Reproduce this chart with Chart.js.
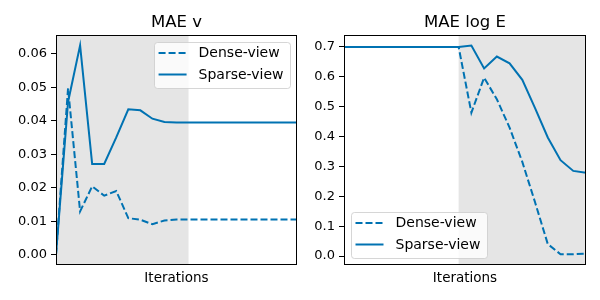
<!DOCTYPE html>
<html>
<head>
<meta charset="utf-8">
<script src="https://cdn.jsdelivr.net/npm/chart.js@4.4.1/dist/chart.umd.min.js"></script>
<style>
  html, body { margin: 0; padding: 0; background: #fff; }
  #wrap { position: relative; width: 600px; height: 300px; }
  #wrap canvas { position: absolute; top: 0; }
</style>
</head>
<body>
<div id="wrap">
  <canvas id="mae-v" width="300" height="300" style="left:0"></canvas>
  <canvas id="mae-loge" width="300" height="300" style="left:300px"></canvas>
</div>
<script>
// --- data ---
const seriesNames = ['Dense-view', 'Sparse-view'];

// MAE v
const iterV = [0, 1, 2, 3, 4, 5, 6, 7, 8, 9, 10, 11, 12, 13, 14, 15, 16, 17, 18, 19, 20];
const denseV = [0, 0.0497, 0.0129, 0.0204, 0.0176, 0.0190, 0.0109, 0.0104, 0.0091, 0.0102, 0.0105,
                0.0105, 0.0105, 0.0105, 0.0105, 0.0105, 0.0105, 0.0105, 0.0105, 0.0105, 0.0105];
const sparseV = [0, 0.0456, 0.0625, 0.0271, 0.0271, 0.0350, 0.0434, 0.0431, 0.0406, 0.0396, 0.0395,
                 0.0395, 0.0395, 0.0395, 0.0395, 0.0395, 0.0395, 0.0395, 0.0395, 0.0395, 0.0395];
const shadeV = [0, 11];
const yTicksV = [0, 0.01, 0.02, 0.03, 0.04, 0.05, 0.06];
const yRangeV = [-0.0031, 0.0656];

// MAE log E
const iterE = [0, 1, 2, 3, 4, 5, 6, 7, 8, 9, 10, 11, 12, 13, 14, 15, 16, 17, 18, 19];
const denseE = [0.7, 0.7, 0.7, 0.7, 0.7, 0.7, 0.7, 0.7, 0.7, 0.7,
                0.480, 0.597, 0.525, 0.430, 0.315, 0.180, 0.040, 0.006, 0.006, 0.008];
const sparseE = [0.7, 0.7, 0.7, 0.7, 0.7, 0.7, 0.7, 0.7, 0.7, 0.7,
                 0.705, 0.628, 0.668, 0.645, 0.590, 0.495, 0.397, 0.321, 0.285, 0.279];
const shadeE = [9, 19];
const yTicksE = [0, 0.1, 0.2, 0.3, 0.4, 0.5, 0.6, 0.7];
const yRangeE = [-0.030, 0.740];

const LINE_COLOR = '#0072b2';
const SHADE_COLOR = '#e5e5e5';
const FONT = "'DejaVu Sans', sans-serif";

// grey band behind the lines
const shadePlugin = {
    id: 'shade',
    beforeDatasetsDraw(chart, args, opts) {
        const { ctx, chartArea: a, scales: { x } } = chart;
        const x0 = x.getPixelForValue(opts.range[0]);
        const x1 = x.getPixelForValue(opts.range[1]);
        ctx.save();
        ctx.fillStyle = SHADE_COLOR;
        ctx.fillRect(x0, a.top, x1 - x0, a.bottom - a.top);
        ctx.restore();
    }
};

// matplotlib style box round the axes
const framePlugin = {
    id: 'frame',
    afterDraw(chart) {
        const { ctx, chartArea: a } = chart;
        ctx.save();
        ctx.strokeStyle = '#000';
        ctx.lineWidth = 1;
        ctx.strokeRect(Math.round(a.left) + 0.5, Math.round(a.top) + 0.5,
                       Math.round(a.right - a.left) - 1, Math.round(a.bottom - a.top) - 1);
        ctx.restore();
    }
};

// legend drawn inside the axes, with a framed box
const boxLegendPlugin = {
    id: 'boxLegend',
    afterDatasetsDraw(chart, args, opts) {
        const { ctx, chartArea: a } = chart;
        const items = chart.data.datasets;
        ctx.save();
        ctx.font = `14px ${FONT}`;
        const textW = Math.max(...items.map(d => ctx.measureText(d.label).width));
        const w = 44 + textW + 7;
        const h = 46;
        const pad = 7;
        const left = opts.corner === 'upper right' ? a.right - pad - w : a.left + pad;
        const top = opts.corner === 'upper right' ? a.top + pad : a.bottom - pad - h;

        ctx.beginPath();
        ctx.roundRect(Math.round(left) + 0.5, Math.round(top) + 0.5, Math.round(w), h, 3);
        ctx.fillStyle = 'rgba(255,255,255,0.8)';
        ctx.fill();
        ctx.strokeStyle = 'rgba(204,204,204,0.8)';
        ctx.lineWidth = 1;
        ctx.stroke();

        items.forEach((d, i) => {
            const y = top + 11 + i * 21.5;
            ctx.beginPath();
            ctx.setLineDash(d.borderDash || []);
            ctx.strokeStyle = d.borderColor;
            ctx.lineWidth = d.borderWidth;
            ctx.moveTo(left + 4.5, y);
            ctx.lineTo(left + 32.5, y);
            ctx.stroke();
            ctx.setLineDash([]);
            ctx.fillStyle = '#000';
            ctx.textBaseline = 'middle';
            ctx.textAlign = 'left';
            ctx.fillText(d.label, left + 44.5, y + 0.5);
        });
        ctx.restore();
    }
};

function makeSet(label, xs, ys, dashed) {
    return {
        label: label,
        data: xs.map((x, i) => ({ x: x, y: ys[i] })),
        borderColor: LINE_COLOR,
        backgroundColor: LINE_COLOR,
        borderWidth: 2,
        borderDash: dashed ? [7, 3] : [],
        pointRadius: 0,
        tension: 0,
        fill: false
    };
}

function renderPanel(id, cfg) {
    return new Chart(document.getElementById(id), {
        type: 'line',
        data: {
            datasets: [
                makeSet(seriesNames[0], cfg.iters, cfg.dense, true),
                makeSet(seriesNames[1], cfg.iters, cfg.sparse, false)
            ]
        },
        plugins: [shadePlugin, framePlugin, boxLegendPlugin],
        options: {
            responsive: false,
            animation: false,
            devicePixelRatio: 1,
            events: [],
            layout: { padding: { left: 0, right: cfg.padRight, top: 0, bottom: 0 } },
            plugins: {
                legend: { display: false },
                tooltip: { enabled: false },
                title: {
                    display: true,
                    text: cfg.title,
                    color: '#000',
                    fullSize: false,
                    font: { family: FONT, size: 16.5, weight: 'normal', lineHeight: 1.2 },
                    padding: { top: 12.5, bottom: 2.7 }
                },
                shade: { range: cfg.shade },
                boxLegend: { corner: cfg.legendCorner }
            },
            scales: {
                x: {
                    type: 'linear',
                    min: cfg.iters[0],
                    max: cfg.iters[cfg.iters.length - 1],
                    afterFit(s) { s.height = 35; },
                    border: { display: false },
                    grid: { display: false },
                    ticks: { display: false },
                    title: {
                        display: true,
                        text: 'Iterations',
                        color: '#000',
                        font: { family: FONT, size: 13.5, lineHeight: 1.2 },
                        padding: { top: 0, bottom: 13 }
                    }
                },
                y: {
                    min: cfg.yRange[0],
                    max: cfg.yRange[1],
                    afterFit(s) { s.width = cfg.yWidth; },
                    afterBuildTicks(s) { s.ticks = cfg.yTicks.map(v => ({ value: v })); },
                    border: { display: false },
                    grid: { drawOnChartArea: false, drawTicks: true, tickLength: 5, color: '#000', lineWidth: 1 },
                    ticks: {
                        color: '#000',
                        autoSkip: false,
                        padding: 4,
                        font: { family: FONT, size: 13 },
                        callback: v => v.toFixed(cfg.decimals)
                    }
                }
            }
        }
    });
}

renderPanel('mae-v', {
    title: 'MAE v', iters: iterV, dense: denseV, sparse: sparseV, shade: shadeV,
    yTicks: yTicksV, yRange: yRangeV, decimals: 2, yWidth: 56, padRight: 3,
    legendCorner: 'upper right'
});

renderPanel('mae-loge', {
    title: 'MAE log E', iters: iterE, dense: denseE, sparse: sparseE, shade: shadeE,
    yTicks: yTicksE, yRange: yRangeE, decimals: 1, yWidth: 44, padRight: 14,
    legendCorner: 'lower left'
});
</script>
</body>
</html>
